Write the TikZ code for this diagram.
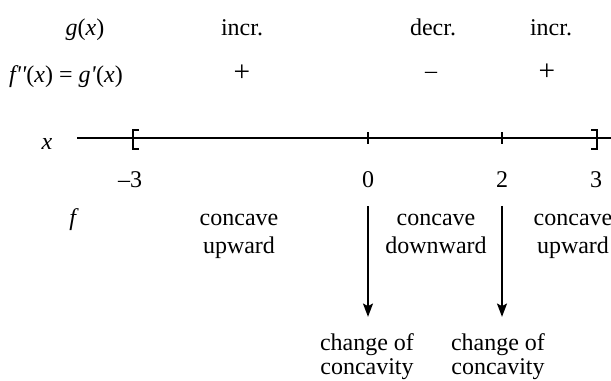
\documentclass[tikz,border=0pt]{standalone}
\usepackage{fontspec}
\setmainfont{Liberation Serif}
\usetikzlibrary{arrows.meta,positioning}

\begin{document}
\begin{tikzpicture}[
    x=0.75pt, y=-0.75pt,
    lbl/.style={anchor=base, inner sep=1pt, align=center, font=\fontsize{18}{21}\selectfont},
    conc/.style={lbl, font=\fontsize{18}{21}\selectfont},
    chg/.style={lbl, font=\fontsize{18}{18}\selectfont},
    sign/.style={lbl, font=\fontsize{22}{22}\selectfont},
    axis/.style={line width=1.5pt},
    bracket/.style={line width=1.2pt},
    arrow/.style={-{Stealth[length=10pt,width=7.5pt,inset=2pt]}, line width=1.4pt}
]
\useasboundingbox (0,0) rectangle (611,380);

\node[lbl] (gx) at (85,35) {\textit{g}(\textit{x})};
\node[lbl] (incA) at (242,35) {incr.};
\node[lbl] (decB) at (433,35) {decr.};
\node[lbl] (incC) at (551,35) {incr.};

\node[lbl] (fpp) at (66,82) {\textit{f\textquotesingle\textquotesingle}(\textit{x}) = \textit{g\textquotesingle}(\textit{x})};
\node[sign] (sgnA) at (242,81) {+};
\node[lbl] (sgnB) at (431,78) {–};
\node[sign] (sgnC) at (547,80) {+};

\node[lbl] (xlab) at (47,149) {\textit{x}};
\coordinate (left) at (77,138);
\coordinate (right) at (611,138);
\coordinate (lo) at (133,138);
\coordinate (hi) at (597,138);
\draw[axis] (left) -- (right);
\draw[bracket] (lo) ++(6,-8) -- ++(-6,0) -- ++(0,19) -- ++(6,0);
\draw[bracket] (hi) ++(-6,-8) -- ++(6,0) -- ++(0,19) -- ++(-6,0);
\foreach \t in {368,502}
    \draw[bracket] (\t,132) -- (\t,144);

\node[lbl] (nm3) at (130,187) {–3};
\node[lbl] (n0) at (368,187) {0};
\node[lbl] (n2) at (502,187) {2};
\node[lbl] (n3) at (596,187) {3};

\node[lbl] (flab) at (74,225) {\textit{f}};
\node[conc] (cupA) at (239,253) {concave\\upward};
\node[conc] (cdown) at (436,253) {concave\\downward};
\node[conc] (cupB) at (573,253) {concave\\upward};

\node[chg] (chA) at (367,374) {change of\\concavity};
\node[chg] (chB) at (498,374) {change of\\concavity};

\draw[arrow, shorten <=13pt, shorten >=11pt] (n0) -- (n0 |- chA.north);
\draw[arrow, shorten <=13pt, shorten >=11pt] (n2) -- (n2 |- chB.north);
\end{tikzpicture}
\end{document}
